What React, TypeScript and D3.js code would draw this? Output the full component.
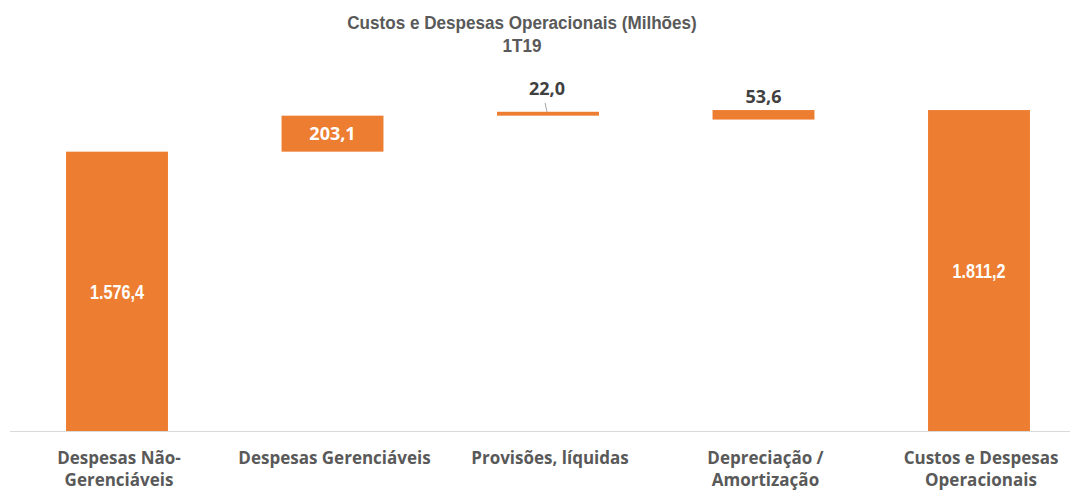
import React from "react";
import * as d3 from "d3";

const categories: string[][] = [
  ["Despesas Não-", "Gerenciáveis"],
  ["Despesas Gerenciáveis"],
  ["Provisões, líquidas"],
  ["Depreciação /", "Amortização"],
  ["Custos e Despesas", "Operacionais"],
];
const values = [1576.4, 203.1, 22.0, 53.6, 1811.2];
const bases = [0, 1576.4, 1779.5, 1757.6, 0];
const labels = ["1.576,4", "203,1", "22,0", "53,6", "1.811,2"];
const titleLines = ["Custos e Despesas Operacionais (Milhões)", "1T19"];

const W = 1075;
const H = 491;
const ORANGE = "#ED7D31";
const GREY = "#595959";
const ARIAL = "'Liberation Sans', Arial, sans-serif";
const OPEN = "'Open Sans', sans-serif";

export default function App() {
  const x = d3
    .scaleBand<number>()
    .domain(d3.range(values.length))
    .range([9.25, 1086.75])
    .paddingInner(0.527)
    .paddingOuter(0.2635);
  const y = d3.scaleLinear().domain([0, 2000]).range([431, 76.6]);
  const bw = x.bandwidth();

  return (
    <svg width={W} height={H} style={{ position: "absolute", left: 0, top: 0, background: "#fff" }}>
      <g transform="translate(522,0) scale(0.9,1)">
        <text textAnchor="middle" fontFamily={ARIAL} fontWeight="bold" fill={GREY} fontSize={19}>
          <tspan x={0} y={29}>{titleLines[0]}</tspan>
          <tspan x={0} y={52}>{titleLines[1]}</tspan>
        </text>
      </g>
      <line x1={10} x2={1070} y1={y(0) + 0.5} y2={y(0) + 0.5} stroke="#d9d9d9" strokeWidth={1} />
      {values.map((v, i) => {
        const x0 = x(i)!;
        const yTop = y(bases[i] + v);
        const yBot = y(bases[i]);
        const cx = x0 + bw / 2;
        const inside = i === 0 || i === 1 || i === 4;
        const big = i === 0 || i === 4;
        return (
          <g key={i}>
            <rect x={x0} y={yTop} width={bw} height={yBot - yTop} fill={ORANGE} />
            {inside ? (
              big ? (
                <g transform={`translate(${cx},${(yTop + yBot) / 2}) scale(0.77,1)`}>
                  <text x={0} y={0} dy="0.36em" textAnchor="middle" fill="#fff" fontWeight="bold" fontFamily={ARIAL} fontSize={21}>
                    {labels[i]}
                  </text>
                </g>
              ) : (
                <text x={cx} y={(yTop + yBot) / 2} dy="0.36em" textAnchor="middle" fill="#fff" fontWeight="bold" fontFamily={OPEN} fontSize={18}>
                  {labels[i]}
                </text>
              )
            ) : (
              <g>
                {i === 2 && (
                  <line x1={cx - 3} y1={yTop - 9} x2={cx - 1} y2={yTop} stroke="#a6a6a6" strokeWidth={1} />
                )}
                <text
                  x={i === 2 ? cx - 1 : cx}
                  y={i === 2 ? yTop - 23 : yTop - 14}
                  dy="0.36em"
                  textAnchor="middle"
                  fill="#404040"
                  fontWeight="bold"
                  fontFamily={OPEN}
                  fontSize={18}
                >
                  {labels[i]}
                </text>
              </g>
            )}
            <text textAnchor="middle" fill={GREY} fontWeight="bold" fontFamily={OPEN} fontSize={17}>
              {categories[i].map((t, k) => (
                <tspan key={k} x={cx + 2} y={464 + k * 22}>
                  {t}
                </tspan>
              ))}
            </text>
          </g>
        );
      })}
    </svg>
  );
}
